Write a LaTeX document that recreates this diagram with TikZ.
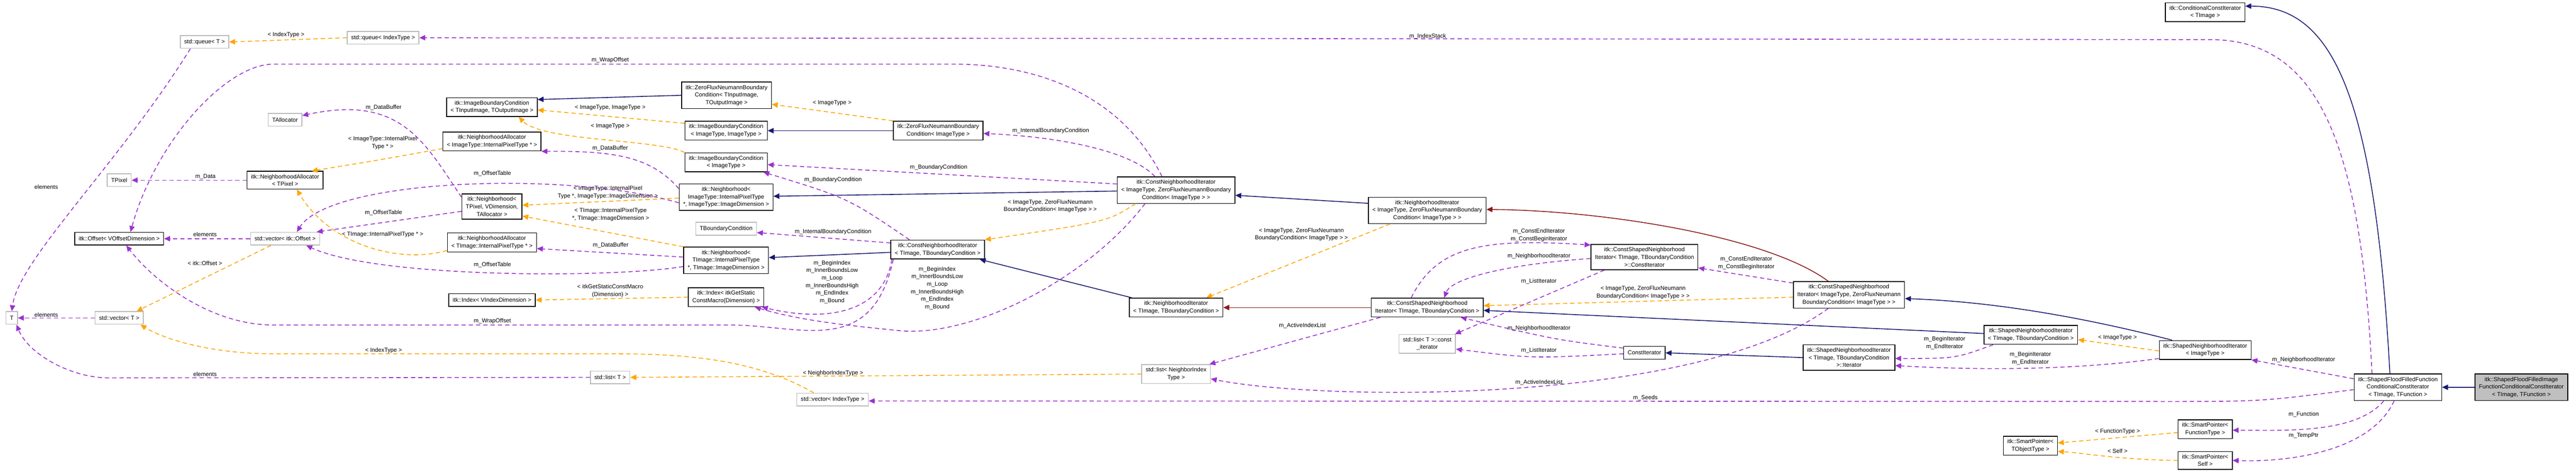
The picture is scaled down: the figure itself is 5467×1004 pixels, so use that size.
\documentclass[tikz,border=0pt]{standalone}
\usepackage{fontspec}
\setmainfont{Liberation Sans}
\usetikzlibrary{arrows.meta,calc}
\definecolor{inhblue}{HTML}{191970}
\definecolor{protred}{HTML}{8B1A1A}
\definecolor{usepurple}{HTML}{9A32CD}
\definecolor{tmplorange}{HTML}{FFA500}
\begin{document}
\begin{tikzpicture}[x=0.1mm,y=-0.1mm]
\tikzset{cls/.style={draw=black, line width=0.45pt, fill=white, inner xsep=2.4pt, inner ysep=1.8pt, minimum height=2.7mm, align=center, font=\fontsize{3.5}{4.55}\selectfont}}
\tikzset{ext/.style={cls, draw=gray!55}, root/.style={cls, fill=gray!50}} % grey boxes: classes without docs, filled: the class itself
\tikzset{lbl/.style={inner sep=0pt, align=center, font=\fontsize{3.5}{4.55}\selectfont}}
\tikzset{inh/.style={draw=inhblue, line width=0.5pt, -{Triangle[length=3.6pt,width=3.2pt]}},
 prot/.style={inh, draw=protred, -{Triangle[length=3.6pt,width=3.2pt]}, color=protred},
 use/.style={draw=usepurple, color=usepurple, line width=0.5pt, dash pattern=on 2.6pt off 1.8pt, -{Triangle[length=3.6pt,width=3.2pt]}},
 tmpl/.style={use, draw=tmplorange, color=tmplorange}}
\useasboundingbox (0,0) rectangle (5467,1004);

% left column
\node[ext] (qT) at (434,89) {std::queue< T >};
\node[ext] (qIdx) at (813,80) {std::queue< IndexType >};
\node[cls] (ibcIO) at (1044,227) {itk::ImageBoundaryCondition\\< TInputImage, TOutputImage >};
\node[ext] (talloc) at (605,254) {TAllocator};
\node[cls] (naImg) at (1044,300) {itk::NeighborhoodAllocator\\< ImageType::InternalPixelType * >};
\node[ext] (tpixel) at (253,382) {TPixel};
\node[cls] (naPix) at (605,382) {itk::NeighborhoodAllocator\\< TPixel >};
\node[cls] (nbPix) at (1044,438) {itk::Neighborhood<\\ TPixel, VDimension,\\ TAllocator >};
\node[cls] (offs) at (253,506) {itk::Offset< VOffsetDimension >};
\node[ext] (vecOff) at (605,506) {std::vector< itk::Offset >};
\node[cls] (naTim) at (1044,514) {itk::NeighborhoodAllocator\\< TImage::InternalPixelType * >};
\node[cls] (idxV) at (1044,636) {itk::Index< VIndexDimension >};
\node[ext] (tT) at (25,674) {T};
\node[ext] (vecT) at (253,674) {std::vector< T >};
\node[ext] (listT) at (1295,800) {std::list< T >};

% boundary conditions and neighborhoods
\node[cls] (zfnIO) at (1542,202) {itk::ZeroFluxNeumannBoundary\\Condition< TInputImage,\\ TOutputImage >};
\node[cls] (ibcII) at (1541,277) {itk::ImageBoundaryCondition\\< ImageType, ImageType >};
\node[cls] (zfnI) at (1991,277) {itk::ZeroFluxNeumannBoundary\\Condition< ImageType >};
\node[cls] (ibcI) at (1541,344) {itk::ImageBoundaryCondition\\< ImageType >};
\node[cls] (nbImg) at (1541,418) {itk::Neighborhood<\\ ImageType::InternalPixelType\\ *, ImageType::ImageDimension >};
\node[ext] (tbc) at (1541,485) {TBoundaryCondition};
\node[cls] (nbTim) at (1541,552) {itk::Neighborhood<\\ TImage::InternalPixelType\\ *, TImage::ImageDimension >};
\node[cls] (idxM) at (1541,630) {itk::Index< itkGetStatic\\ConstMacro(Dimension) >};
\node[ext] (vecIdx) at (1767,847) {std::vector< IndexType >};

% iterators
\node[cls] (cniZ) at (2496,403) {itk::ConstNeighborhoodIterator\\< ImageType, ZeroFluxNeumannBoundary\\Condition< ImageType > >};
\node[cls] (cniT) at (1990,529) {itk::ConstNeighborhoodIterator\\< TImage, TBoundaryCondition >};
\node[cls] (niT) at (2496,652) {itk::NeighborhoodIterator\\< TImage, TBoundaryCondition >};
\node[ext] (listN) at (2496,793) {std::list< NeighborIndex\\Type >};
\node[cls] (niZ) at (3029,446) {itk::NeighborhoodIterator\\< ImageType, ZeroFluxNeumannBoundary\\Condition< ImageType > >};
\node[cls] (csCI) at (3490,545) {itk::ConstShapedNeighborhood\\Iterator< TImage, TBoundaryCondition\\ >::ConstIterator};
\node[cls] (csZ) at (3924,625) {itk::ConstShapedNeighborhood\\Iterator< ImageType, ZeroFluxNeumann\\BoundaryCondition< ImageType > >};
\node[cls] (csT) at (3029,652) {itk::ConstShapedNeighborhood\\Iterator< TImage, TBoundaryCondition >};
\node[ext] (lci) at (3029,729) {std::list< T >::const\\\_iterator};
\node[cls] (ci) at (3490,748) {ConstIterator};
\node[cls] (sniIt) at (3924,758) {itk::ShapedNeighborhoodIterator\\< TImage, TBoundaryCondition\\ >::Iterator};
\node[cls] (sniT) at (4310,710) {itk::ShapedNeighborhoodIterator\\< TImage, TBoundaryCondition >};
\node[cls] (sniI) at (4680,742) {itk::ShapedNeighborhoodIterator\\< ImageType >};
\node[cls] (cci) at (4680,26) {itk::ConditionalConstIterator\\< TImage >};
\node[cls] (sfff) at (5089,821) {itk::ShapedFloodFilledFunction\\ConditionalConstIterator\\< TImage, TFunction >};
\node[root] (root) at (5351,821) {itk::ShapedFloodFilledImage\\FunctionConditionalConstIterator\\< TImage, TFunction >};
\node[cls] (spF) at (4680,910) {itk::SmartPointer<\\ FunctionType >};
\node[cls] (spT) at (4309,945) {itk::SmartPointer<\\ TObjectType >};
\node[cls] (spS) at (4680,976) {itk::SmartPointer<\\ Self >};

% queues, vectors, lists
\draw[tmpl] (qIdx.west) -- (qT.east);
\node[lbl] (l1) at (607,74) {< IndexType >};
\draw[use] ($(sfff.north)+(-55,0)$) .. controls (5010,300) and (4920,84) .. (4690,84) -- (qIdx.east);
\node[lbl] (l2) at (3030,77) {m\_IndexStack};
\draw[use] ($(qT.south)+(-30,0)$) .. controls (250,350) and (40,550) .. (tT.north);
\node[lbl] (l3) at (98,396) {elements};
\draw[use] (vecOff.west) -- (offs.east);
\node[lbl] (l4) at (435,497) {elements};
\draw[tmpl] ($(vecOff.south)+(-30,0)$) -- ($(vecT.north)+(37,0)$);
\node[lbl] (l5) at (435,558) {< itk::Offset >};
\draw[use] (vecT.west) -- (tT.east);
\node[lbl] (l6) at (98,667) {elements};
\draw[use] (listT.west) -- (230,801) .. controls (150,801) and (60,750) .. ($(tT.south)+(10,0)$);
\node[lbl] (l7) at (435,793) {elements};
\draw[tmpl] ($(vecIdx.north)+(-40,0)$) .. controls (1600,760) and (1450,750) .. (1300,750) -- (580,750) .. controls (450,750) and (350,720) .. ($(vecT.south)+(45,0)$);
\node[lbl] (l8) at (814,743) {< IndexType >};
\draw[tmpl] (listN.west) -- (listT.east);
\node[lbl] (l9) at (1768,791) {< NeighborIndexType >};
\draw[tmpl] (idxM.west) -- (idxV.east);
\node[lbl] (l10) at (1295,617) {< itkGetStaticConstMacro\\(Dimension) >};

% wrap offsets
\draw[use] ($(cniZ.north)+(-30,0)$) .. controls (2380,200) and (2200,136) .. (2025,136) -- (580,136) .. controls (480,136) and (330,300) .. ($(offs.north)+(24,0)$);
\node[lbl] (l11) at (1295,128) {m\_WrapOffset};
\draw[use] ($(cniT.south west)+(6,0)$) .. controls (1850,760) and (1700,689) .. (1550,689) -- (580,689) .. controls (450,689) and (330,600) .. ($(offs.south)+(15,0)$);
\node[lbl] (l12) at (1045,681) {m\_WrapOffset};

% boundary conditions
\draw[tmpl] (ibcII.170) -- ($(ibcIO.east)+(0,6)$);
\node[lbl] (l13) at (1295,228) {< ImageType, ImageType >};
\draw[tmpl] (ibcI.north west) .. controls (1400,295) and (1150,300) .. ($(ibcIO.south east)+(-40,0)$);
\node[lbl] (l14) at (1295,268) {< ImageType >};
\draw[inh] (zfnIO.west) -- ($(ibcIO.east)+(0,-16)$);
\draw[tmpl] (zfnI.north west) -- ($(zfnIO.east)+(0,19)$);
\node[lbl] (l15) at (1766,219) {< ImageType >};
\draw[inh] (zfnI.west) -- (ibcII.east);
\draw[use] ($(cniZ.north)+(-45,0)$) .. controls (2400,320) and (2250,290) .. ($(zfnI.east)+(0,6)$);
\node[lbl] (l16) at (2230,277) {m\_InternalBoundaryCondition};
\draw[use] ($(cniZ.west)+(0,-13)$) -- ($(ibcI.east)+(0,5)$);
\node[lbl] (l17) at (1992,355) {m\_BoundaryCondition};
\draw[use] ($(cniT.north)+(-60,0)$) .. controls (1800,420) .. ($(ibcI.south)+(79,0)$);
\node[lbl] (l18) at (1768,381) {m\_BoundaryCondition};
\draw[use] ($(cniT.west)+(0,-14)$) -- ($(tbc.east)+(0,8)$);
\node[lbl] (l19) at (1768,492) {m\_InternalBoundaryCondition};

% neighborhoods and allocators
\draw[inh] ($(cniZ.west)+(0,2)$) -- ($(nbImg.east)+(0,-2)$);
\draw[inh] ($(cniT.west)+(0,6)$) -- ($(nbTim.east)+(0,-6)$);
\draw[tmpl] ($(nbImg.west)+(0,2)$) -- ($(nbPix.east)+(0,-3)$);
\node[lbl] (l20) at (1290,408) {< ImageType::InternalPixel\\Type *, ImageType::ImageDimension >};
\draw[tmpl] (nbTim.north west) -- ($(nbPix.east)+(0,20)$);
\node[lbl] (l21) at (1296,455) {< TImage::InternalPixelType\\ *, TImage::ImageDimension >};
\draw[tmpl] ($(naImg.west)+(0,15)$) .. controls (800,340) .. ($(naPix.north east)+(-25,0)$);
\node[lbl] (l22) at (812,303) {< ImageType::InternalPixel\\Type * >};
\draw[tmpl] ($(naTim.west)+(0,17)$) .. controls (850,560) and (700,520) .. ($(naPix.south)+(25,0)$);
\node[lbl] (l23) at (812,497) {< TImage::InternalPixelType * >};
\draw[use] (naPix.west) -- (tpixel.east);
\node[lbl] (l24) at (436,375) {m\_Data};
\draw[use] ($(nbPix.west)+(0,-20)$) .. controls (900,300) and (850,200) .. ($(talloc.east)+(0,-9)$);
\node[lbl] (l25) at (814,228) {m\_DataBuffer};
\draw[use] ($(nbImg.west)+(0,-18)$) .. controls (1380,330) and (1300,320) .. (naImg.south east);
\node[lbl] (l26) at (1295,314) {m\_DataBuffer};
\draw[use] ($(nbTim.west)+(0,-7)$) -- ($(naTim.east)+(0,13)$);
\node[lbl] (l27) at (1296,520) {m\_DataBuffer};
\draw[use] ($(nbPix.west)+(0,10)$) -- ($(vecOff.north east)+(-7,0)$);
\node[lbl] (l28) at (814,451) {m\_OffsetTable};
\draw[use] ($(nbImg.west)+(0,12)$) .. controls (1200,360) and (700,380) .. ($(vecOff.north)+(25,0)$);
\node[lbl] (l29) at (1045,368) {m\_OffsetTable};
\draw[use] ($(nbTim.west)+(0,13)$) .. controls (1300,590) and (800,590) .. ($(vecOff.south)+(45,0)$);
\node[lbl] (l30) at (1045,562) {m\_OffsetTable};
\draw[use] ($(cniT.south west)+(3,0)$) .. controls (1875,660) and (1760,685) .. ($(idxM.south east)+(-5,0)$);
\node[lbl] (l31) at (1766,598) {m\_BeginIndex\\m\_InnerBoundsLow\\m\_Loop\\m\_InnerBoundsHigh\\m\_EndIndex\\m\_Bound};
\draw[use] ($(cniZ.south)+(-66,0)$) .. controls (2300,600) and (2050,720) .. (1900,700) .. controls (1800,690) and (1700,680) .. ($(idxM.south east)+(-20,0)$);
\node[lbl] (l32) at (1989,611) {m\_BeginIndex\\m\_InnerBoundsLow\\m\_Loop\\m\_InnerBoundsHigh\\m\_EndIndex\\m\_Bound};

% neighborhood iterators
\draw[inh] ($(niZ.west)+(0,-15)$) -- ($(cniZ.east)+(0,11)$);
\draw[tmpl] ($(cniZ.south)+(-86,0)$) .. controls (2350,470) .. (cniT.north east);
\node[lbl] (l33) at (2229,437) {< ImageType, ZeroFluxNeumann\\BoundaryCondition< ImageType > >};
\draw[inh] ($(niT.north west)+(6,0)$) -- ($(cniT.south east)+(-11,0)$);
\draw[prot] (csT.west) -- (niT.east);
\draw[tmpl] ($(niZ.south)+(-79,0)$) -- ($(niT.north)+(64,0)$);
\node[lbl] (l34) at (2762,497) {< ImageType, ZeroFluxNeumann\\BoundaryCondition< ImageType > >};
\draw[prot] ($(csZ.north)+(-44,0)$) .. controls (3750,500) and (3400,446) .. ($(niZ.east)+(0,-2)$);
\draw[use] ($(csT.south west)+(20,0)$) -- ($(listN.north east)+(-3,0)$);
\node[lbl] (l35) at (2764,691) {m\_ActiveIndexList};
\draw[use] ($(csZ.south)+(-44,0)$) .. controls (3600,860) and (2800,850) .. ($(listN.east)+(0,10)$);
\node[lbl] (l36) at (3266,811) {m\_ActiveIndexList};
\draw[use] ($(sfff.west)+(0,5)$) .. controls (4800,851) .. (4600,851) -- ($(vecIdx.east)+(0,3)$);
\node[lbl] (l37) at (3492,844) {m\_Seeds};

% shaped iterators
\draw[tmpl] ($(csZ.west)+(0,5)$) -- ($(csT.east)+(0,-4)$);
\node[lbl] (l38) at (3487,620) {< ImageType, ZeroFluxNeumann\\BoundaryCondition< ImageType > >};
\draw[inh] ($(sniT.west)+(0,-3)$) -- ($(csT.east)+(0,6)$);
\draw[use] ($(csT.north)+(-34,0)$) .. controls (3050,520) and (3150,505) .. ($(csCI.north west)+(0,2)$);
\node[lbl] (l39) at (3266,499) {m\_ConstEndIterator\\m\_ConstBeginIterator};
\draw[use] ($(csCI.west)+(0,3)$) .. controls (3200,560) and (3080,590) .. ($(csT.north)+(36,0)$);
\node[lbl] (l40) at (3266,543) {m\_NeighborhoodIterator};
\draw[use] ($(csCI.south)+(-85,0)$) -- ($(lci.north east)+(-2,0)$);
\node[lbl] (l41) at (3266,597) {m\_ListIterator};
\draw[use] ($(csZ.west)+(0,-25)$) -- ($(csCI.east)+(0,23)$);
\node[lbl] (l42) at (3706,558) {m\_ConstEndIterator\\m\_ConstBeginIterator};
\draw[use] ($(ci.west)+(0,-10)$) .. controls (3300,720) .. ($(csT.south)+(71,0)$);
\node[lbl] (l43) at (3266,696) {m\_NeighborhoodIterator};
\draw[use] ($(ci.west)+(0,2)$) .. controls (3250,760) .. ($(lci.east)+(0,11)$);
\node[lbl] (l44) at (3266,743) {m\_ListIterator};
\draw[inh] (sniIt.west) -- (ci.east);
\draw[use] ($(sniT.south)+(-80,0)$) .. controls (4150,760) .. ($(sniIt.east)+(0,2)$);
\node[lbl] (l45) at (4127,727) {m\_BeginIterator\\m\_EndIterator};
\draw[use] ($(sniI.west)+(0,18)$) .. controls (4400,785) and (4200,785) .. ($(sniIt.east)+(0,17)$);
\node[lbl] (l46) at (4309,760) {m\_BeginIterator\\m\_EndIterator};
\draw[tmpl] ($(sniI.west)+(0,2)$) -- ($(sniT.east)+(0,10)$);
\node[lbl] (l47) at (4494,716) {< ImageType >};
\draw[inh] ($(sniI.north)+(-70,0)$) .. controls (4450,680) and (4250,640) .. ($(csZ.east)+(0,8)$);
\draw[use] ($(sfff.west)+(0,-18)$) -- (sniI.south east);
\node[lbl] (l48) at (4889,763) {m\_NeighborhoodIterator};

% flood filled iterator and smart pointers
\draw[inh] ($(sfff.north)+(-17,0)$) .. controls (5040,200) and (4950,13) .. ($(cci.east)+(0,-13)$);
\draw[use] ($(sfff.south)+(-30,0)$) .. controls (5000,920) and (4850,912) .. ($(spF.east)+(0,2)$);
\node[lbl] (l49) at (4889,879) {m\_Function};
\draw[use] ($(sfff.south)+(-8,0)$) .. controls (5030,960) and (4850,980) .. (spS.east);
\node[lbl] (l50) at (4889,924) {m\_TempPtr};
\draw[tmpl] ($(spF.west)+(0,7)$) -- ($(spT.east)+(0,-6)$);
\node[lbl] (l51) at (4494,915) {< FunctionType >};
\draw[tmpl] (spS.west) .. controls (4500,975) and (4420,960) .. ($(spT.east)+(0,12)$);
\node[lbl] (l52) at (4494,956) {< Self >};
\draw[inh] (root.west) -- (sfff.east);
\end{tikzpicture}
\end{document}
